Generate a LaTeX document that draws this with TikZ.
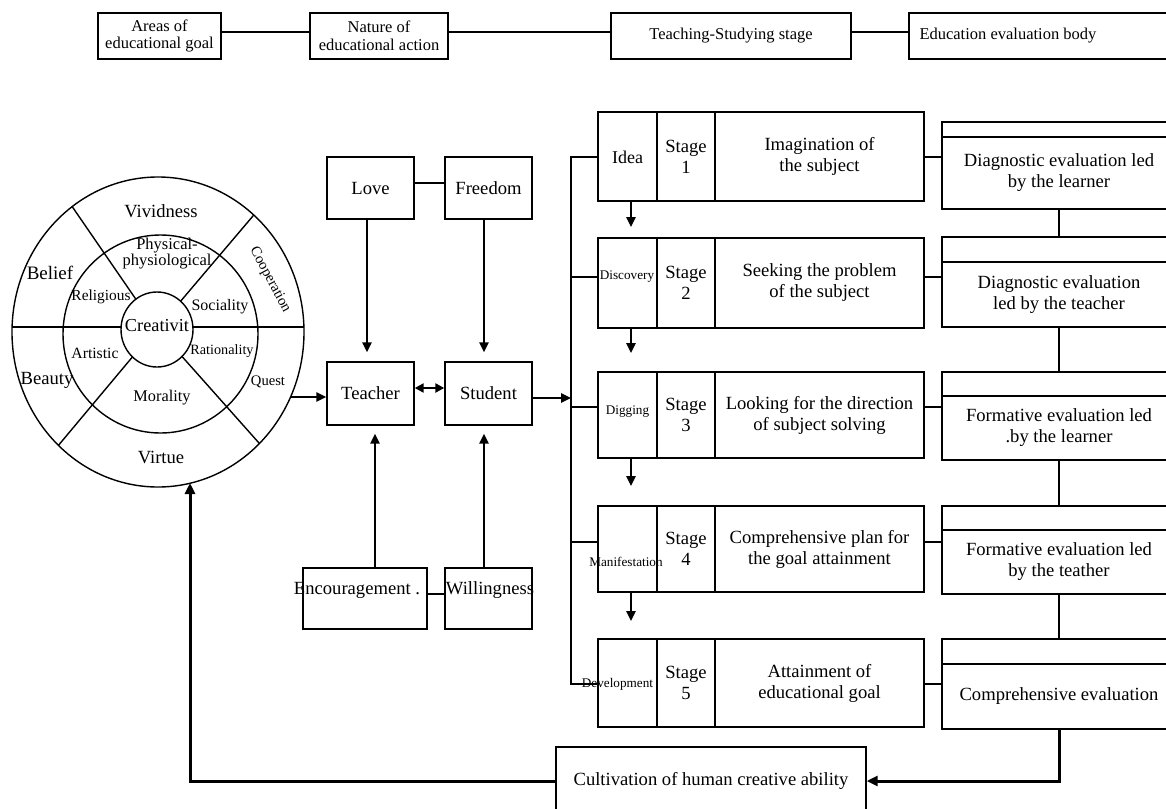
\documentclass[tikz,border=0pt]{standalone}
\usepackage{fontspec}
\setmainfont{Liberation Serif}
\usetikzlibrary{arrows.meta,calc}
\begin{document}
\begin{tikzpicture}[x=1pt,y=-1pt,
  box/.style={draw, line width=1.4pt, inner sep=0pt, align=center},
  cell/.style={draw, line width=1.7pt, inner sep=0pt, align=center},
  fa/.style={font=\fontsize{16.5}{17.5}\selectfont},
  fb/.style={font=\fontsize{18.6}{21}\selectfont},
  fc/.style={font=\fontsize{13.2}{14}\selectfont},
  ct/.style={inner sep=0pt, align=center},
  ln/.style={line width=1.4pt},
  arr/.style={line width=2.4pt, -{Triangle[length=10pt,width=9pt]}},
  darr/.style={line width=2.4pt, {Triangle[length=9pt,width=9pt]}-{Triangle[length=9pt,width=9pt]}},
  fb3/.style={line width=3pt, -{Triangle[length=11pt,width=10pt]}}
]
\useasboundingbox (0,0) rectangle (1166,808);

% ---------- top row ----------
\node[box,fa,minimum width=123pt,minimum height=46pt] (g1) at (159.5,36) {Areas of\\educational goal};
\node[box,fa,minimum width=138pt,minimum height=46pt] (g2) at (379,36) {Nature of\\educational action};
\node[box,fa,minimum width=240pt,minimum height=46pt] (g3) at (731,36) {Teaching-Studying stage};
\node[box,minimum width=271pt,minimum height=46pt,
      label={[fa,anchor=west,xshift=11pt,inner sep=0pt]west:Education evaluation body}] (g4) at (1044.5,36) {};
\draw[ln] ([yshift=4pt]g1.east) -- ([yshift=4pt]g2.west);
\draw[ln] ([yshift=4pt]g2.east) -- ([yshift=4pt]g3.west);
\draw[ln] ([yshift=4pt]g3.east) -- ([yshift=4pt]g4.west);

% ---------- circle ----------
\coordinate (O) at (158,332);
\coordinate (I) at (157,329.5);
\draw[ln] (O) ellipse [x radius=146pt, y radius=155pt];
\draw[ln] (160.5,334) ellipse [x radius=97.5pt, y radius=99pt];
\draw[ln] (I) ellipse [x radius=36pt, y radius=37.5pt];
\draw[ln] (12,327) -- (121,327);
\draw[ln] (193,327) -- (304,327);
\foreach \a in {126,49,227,314}{
  \draw[ln] ($(O)+(\a:146pt and 155pt)$) -- ($(I)+(\a:36pt and 37.5pt)$);
}
\node[ct,fb] (vivid) at (161,211) {Vividness};
\node[ct,font=\fontsize{19}{20}\selectfont] (belief) at (50,273) {Belief};
\node[ct,font=\fontsize{16.5}{13.5}\selectfont] (phys) at (167,254) {Physical-\\physiological};
\node[ct,font=\fontsize{14.6}{15}\selectfont,rotate=-62] (coop) at (270,280) {Cooperation};
\node[ct,font=\fontsize{15.4}{16}\selectfont] (relig) at (101,297) {Religious};
\node[ct,font=\fontsize{16}{17}\selectfont] (soc) at (220,307) {Sociality};
\node[ct,font=\fontsize{18.3}{19}\selectfont] (creat) at (157,326) {Creativit};
\node[ct,font=\fontsize{15.7}{16}\selectfont] (art) at (95,353) {Artistic};
\node[ct,font=\fontsize{14.2}{15}\selectfont] (rat) at (222,351) {Rationality};
\node[ct,fb] (beauty) at (47,380) {Beauty};
\node[ct,font=\fontsize{14.6}{15}\selectfont] (quest) at (268,382) {Quest};
\node[ct,font=\fontsize{16.3}{17}\selectfont] (moral) at (162,398) {Morality};
\node[ct,fb] (virtue) at (161,457) {Virtue};

% ---------- teacher / student ----------
\node[box,fb,minimum width=87pt,minimum height=62pt] (love) at (370.5,188) {Love};
\node[box,fb,minimum width=87pt,minimum height=62pt] (free) at (488.5,188) {Freedom};
\node[box,fb,minimum width=87pt,minimum height=63pt] (teach) at (370.5,393.5) {Teacher};
\node[box,fb,minimum width=87pt,minimum height=63pt] (stud) at (488.5,393.5) {Student};
\node[box,minimum width=124pt,minimum height=61pt] (enc) at (365,598.5) {};
\node[box,minimum width=87pt,minimum height=61pt] (will) at (488.5,598.5) {};
\node[ct,fb] (enct) at (357,590) {Encouragement .};
\node[ct,fb] (willt) at (490,590) {Willingness};

\draw[line width=1.2pt] ([yshift=5pt]love.east) -- ([yshift=5pt]free.west);
\draw[line width=1.4pt] ([yshift=4.5pt]enc.east) -- ([yshift=4.5pt]will.west);
\draw[arr] ([xshift=-3.5pt]love.south) -- ([xshift=-3.5pt,yshift=9pt]teach.north);
\draw[arr] ([xshift=-4.5pt]free.south) -- ([xshift=-4.5pt,yshift=9pt]stud.north);
\draw[arr] ([xshift=10pt]enc.north) -- ([xshift=4.5pt,yshift=-8pt]teach.south);
\draw[arr] ([xshift=-4.5pt]will.north) -- ([xshift=-4.5pt,yshift=-8pt]stud.south);
\draw[darr] ([yshift=5.5pt]teach.east) -- ([yshift=5.5pt]stud.west);

\coordinate (cr) at (290.5,397);
\draw[arr] (cr) -- (teach.west |- cr);

% ---------- stages ----------
\coordinate (c1) at (0,157);
\coordinate (c2) at (0,277);
\coordinate (c3) at (0,407);
\coordinate (c4) at (0,542);
\coordinate (c5) at (0,684);
\coordinate (bustop) at (571,157);
\coordinate (busbot) at (571,684);
\coordinate (sa) at (0,398);

\foreach \k/\cy/\h/\txt in {1/156.5/89/{Imagination of\\the subject},
                            2/283/90/{Seeking the problem\\of the subject},
                            3/415/86/{Looking for the direction\\of subject solving},
                            4/549/86/{Comprehensive plan for\\the goal attainment},
                            5/683/88/{Attainment of\\educational goal}}{
  \node[cell,minimum width=59pt,minimum height=\h pt] (lab\k) at (627.5,\cy) {};
  \node[cell,fb,minimum width=58pt,minimum height=\h pt] (stg\k) at (686,\cy) {Stage\\\k};
  \node[cell,fb,minimum width=209pt,minimum height=\h pt] (dsc\k) at (819.5,\cy) {\txt};
}
\node[ct,font=\fontsize{18}{19}\selectfont] (t1) at (627.5,157) {Idea};
\node[ct,fc] (t2) at (627,277) {Discovery};
\node[ct,fc] (t3) at (627.5,412) {Digging};
\node[ct,fc] (t4) at (626,562) {Manifestation};
\node[ct,fc] (t5) at (617.5,684) {Development};

\draw[ln] (lab1.west |- c1) -- (bustop) -- (busbot) -- (lab5.west |- c5);
\draw[ln] (bustop |- c2) -- (lab2.west |- c2);
\draw[ln] (bustop |- c3) -- (lab3.west |- c3);
\draw[ln] (bustop |- c4) -- (lab4.west |- c4);
\draw[arr] (stud.east |- sa) -- (bustop |- sa);

\draw[arr] ([xshift=3.5pt]lab1.south) -- ([xshift=3.5pt,yshift=10pt]lab2.north);
\draw[arr] ([xshift=3.5pt]lab2.south) -- ([xshift=3.5pt,yshift=18pt]lab3.north);
\draw[arr] ([xshift=3.5pt]lab3.south) -- ([xshift=3.5pt,yshift=19pt]lab4.north);
\draw[arr] ([xshift=3.5pt]lab4.south) -- ([xshift=3.5pt,yshift=17pt]lab5.north);

% ---------- evaluation ----------
\foreach \k/\ty/\th/\by/\bh/\txt in {1/129.5/15/173/72/{Diagnostic evaluation led\\by the learner},
                                     2/249.5/25/294.5/65/{Diagnostic evaluation\\led by the teacher},
                                     3/384/24/428/64/{Formative evaluation led\\.by the learner},
                                     4/518/24/562/64/{Formative evaluation led\\by the teather},
                                     5/651.5/25/696.5/65/{Comprehensive evaluation}}{
  \node[box,minimum width=234pt,minimum height=\th pt] (et\k) at (1059,\ty) {};
  \node[box,fb,minimum width=234pt,minimum height=\bh pt] (eb\k) at (1059,\by) {\txt};
}
\foreach \k in {1,...,5}{
  \draw[ln] (dsc\k.east |- c\k) -- (eb\k.west |- c\k);
}
\draw[ln] (eb1.south) -- (et2.north);
\draw[ln] (eb2.south) -- (et3.north);
\draw[ln] (eb3.south) -- (et4.north);
\draw[ln] (eb4.south) -- (et5.north);

% ---------- feedback ----------
\node[box,fb,minimum width=310pt,minimum height=68pt] (cult) at (711,781) {Cultivation of human creative ability};
\coordinate (cbot) at (190,483);
\draw[fb3] (eb5.south) |- (cult.east);
\draw[fb3] (cult.west) -| (cbot);
\end{tikzpicture}
\end{document}
